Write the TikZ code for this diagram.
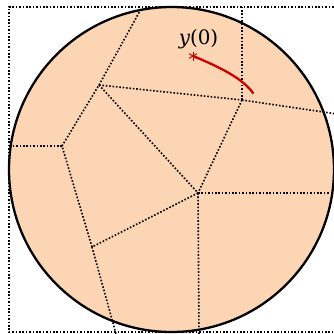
\documentclass[tikz,border=0pt]{standalone}
\usepackage{fontspec}
\newfontfamily\labfont{DejaVu Serif}
\usetikzlibrary{calc}
\definecolor{peach}{RGB}{252,213,180}
\definecolor{darkred}{RGB}{204,0,0}
\tikzset{
  vor/.style={line width=1.6bp, dash pattern=on 1.6bp off 1.8bp},
  rim/.style={line width=2.3bp},
  traj/.style={line width=2.3bp, darkred},
}
\begin{document}
\begin{tikzpicture}[x=1bp,y=-1bp]
\useasboundingbox (0,0) rectangle (334,334);
\coordinate (O) at (171.5,169.5);
\fill[peach] (O) circle[radius=162.5];
% dotted square
\draw[vor] (337,7) -- (9,7) -- (9,332) -- (337,332);
% Voronoi vertices
\coordinate (A) at (99,85);
\coordinate (B) at (242,100);
\coordinate (C) at (198,193);
\coordinate (D) at (92,247);
\coordinate (E) at (62,146);
% free ends
\coordinate (t1) at (141,9);
\coordinate (t2) at (242,7);
\coordinate (r1) at (337,114);
\coordinate (r2) at (337,193);
\coordinate (b1) at (199,334);
\coordinate (b2) at (116,334);
\coordinate (l1) at (9,146);
\draw[vor] (A) -- (t1);
\draw[vor] (B) -- (t2);
\draw[vor] (A) -- (B);
\draw[vor] (B) -- (r1);
\draw[vor] (B) -- (C);
\draw[vor] (A) -- (C);
\draw[vor] (C) -- (r2);
\draw[vor] (C) -- (b1);
\draw[vor] (C) -- (D);
\draw[vor] (D) -- (E);
\draw[vor] (E) -- (l1);
\draw[vor] (E) -- (A);
\draw[vor] (D) -- (b2);
% rim
\draw[rim] (O) circle[radius=162.5];
% trajectory
\coordinate (s) at (193,56);
\coordinate (f) at (253,93);
\draw[traj, line cap=round] (s) .. controls (222,68) and (243,79) .. (f);
\draw[darkred, line width=1bp] ($(s)+(0,-4.5)$) -- ($(s)+(0,4.5)$);
\draw[darkred, line width=1bp] ($(s)+(-4,-2.3)$) -- ($(s)+(4,2.3)$);
\draw[darkred, line width=1bp] ($(s)+(-4,2.3)$) -- ($(s)+(4,-2.3)$);
\node[font=\fontsize{20}{22}\selectfont\labfont, anchor=base, inner sep=0pt] (lab) at (198.5,44.5) {\itshape y\upshape(0)};
\end{tikzpicture}
\end{document}
